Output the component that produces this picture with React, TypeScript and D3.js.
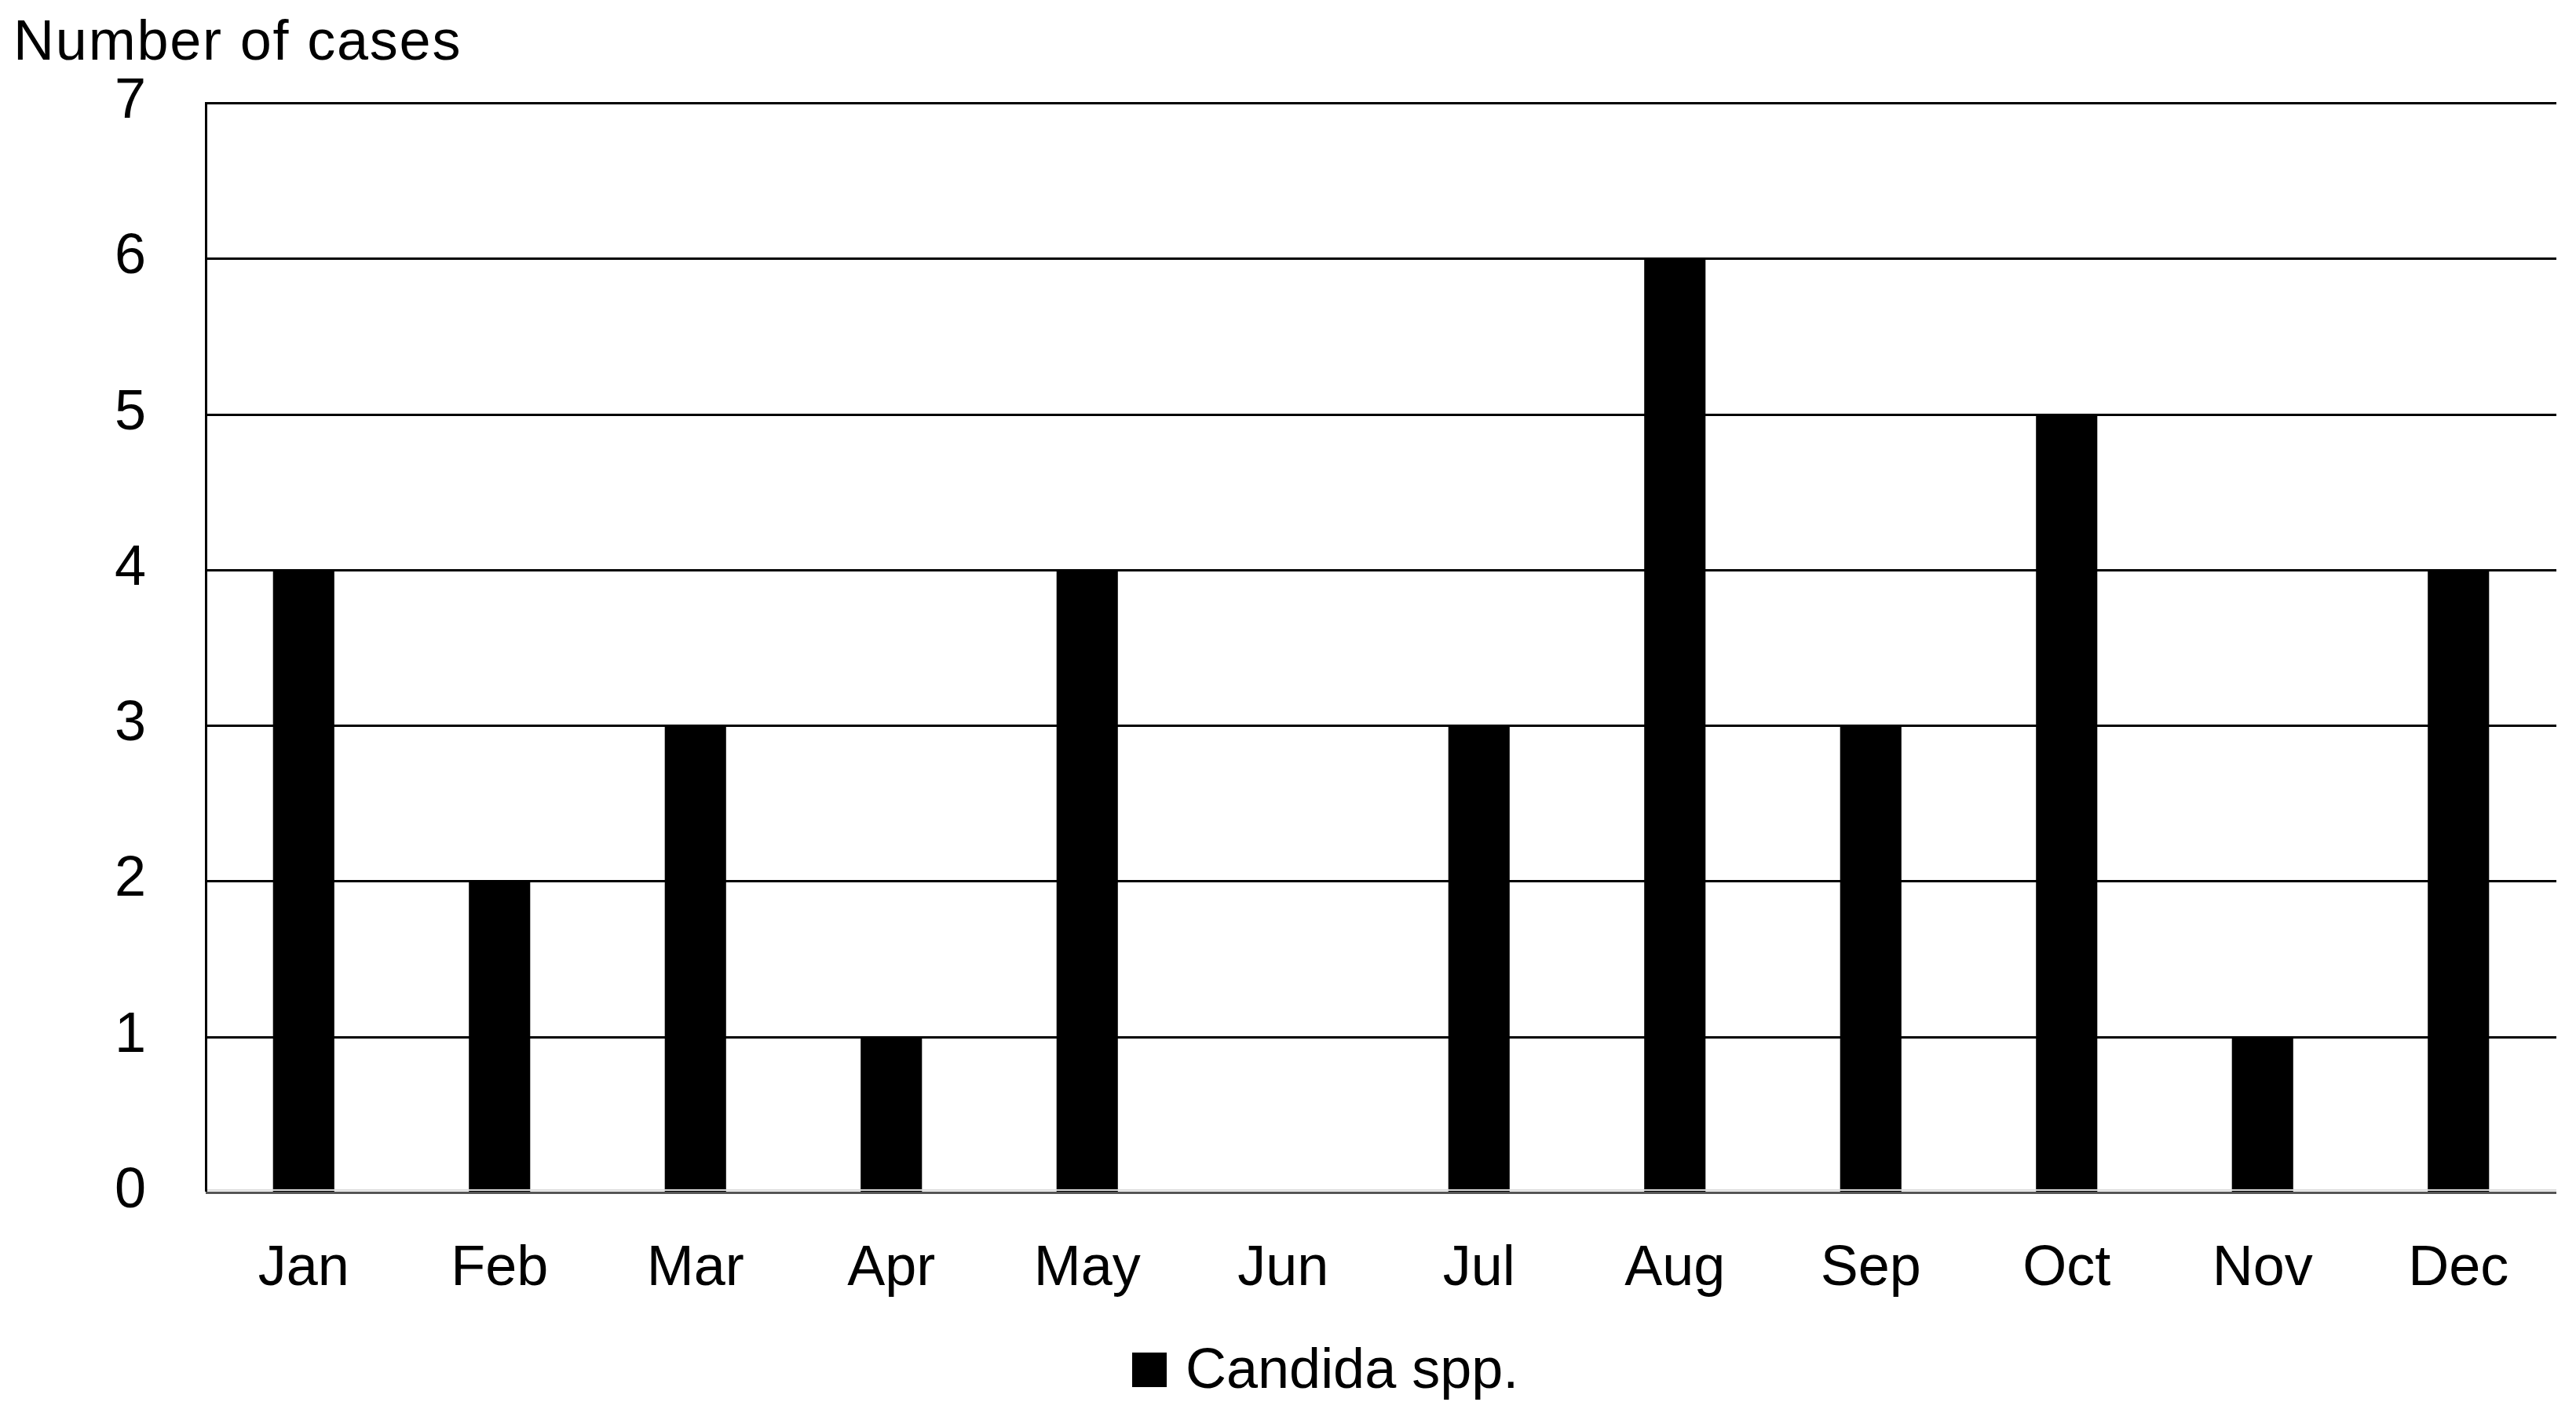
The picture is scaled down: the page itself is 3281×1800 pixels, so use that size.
import React, { useEffect } from "react";
import * as d3 from "d3";

const months = ["Jan", "Feb", "Mar", "Apr", "May", "Jun", "Jul", "Aug", "Sep", "Oct", "Nov", "Dec"];
const cases = [4, 2, 3, 1, 4, 0, 3, 6, 3, 5, 1, 4];
const yTicks = [0, 1, 2, 3, 4, 5, 6, 7];
const seriesName = "Candida spp.";
const yTitle = "Number of cases";

const W = 3281;
const H = 1800;
const M = { left: 262, right: 25, top: 131, bottom: 281 };
const FONT = "'Liberation Sans', Arial, sans-serif";

export default function App() {
  useEffect(() => {
    document.body.style.margin = "0";
    document.body.style.overflow = "hidden";
  }, []);

  const x = d3.scaleBand<string>()
    .domain(months)
    .range([M.left, W - M.right])
    .paddingInner(0.687)
    .paddingOuter(0.3435);

  const y = d3.scaleLinear()
    .domain([0, 7])
    .range([H - M.bottom, M.top]);

  const gy = (t: number) => Math.round(y(t)) + 0.5;

  return (
    <svg width={W} height={H} style={{ display: "block", background: "#fff" }} fontFamily={FONT}>
      {/* title */}
      <text x={17} y={76} fontSize={72} letterSpacing={1.8} fill="#000">{yTitle}</text>

      {/* grid lines */}
      {yTicks.filter((t) => t > 0).map((t) => (
        <line key={t} x1={M.left} x2={W - M.right} y1={gy(t)} y2={gy(t)} stroke="#000" strokeWidth={3} />
      ))}

      {/* y labels */}
      {yTicks.map((t) => (
        <text key={t} x={186} y={y(t) + 19} fontSize={72} textAnchor="end" fill="#000">{t}</text>
      ))}

      {/* bars */}
      {cases.map((v, i) => (
        <rect key={months[i]} x={x(months[i])} y={gy(v)} width={x.bandwidth()} height={gy(0) - gy(v)} fill="#000" />
      ))}

      {/* axes */}
      <line x1={M.left} x2={W - M.right} y1={gy(0) - 3.5} y2={gy(0) - 3.5} stroke="#dcdcdc" strokeWidth={2} />
      <line x1={M.left} x2={W - M.right} y1={gy(0)} y2={gy(0)} stroke="#555" strokeWidth={3} />
      <line x1={M.left + 0.5} x2={M.left + 0.5} y1={gy(7) - 1.5} y2={gy(0) - 1.5} stroke="#000" strokeWidth={3} />

      {/* x labels */}
      {months.map((m) => (
        <text key={m} x={(x(m) as number) + x.bandwidth() / 2} y={1637} fontSize={72} textAnchor="middle" fill="#000">{m}</text>
      ))}

      {/* legend */}
      <rect x={1442} y={1723} width={44} height={44} fill="#000" />
      <text x={1510} y={1768} fontSize={72} fill="#000">{seriesName}</text>
    </svg>
  );
}
